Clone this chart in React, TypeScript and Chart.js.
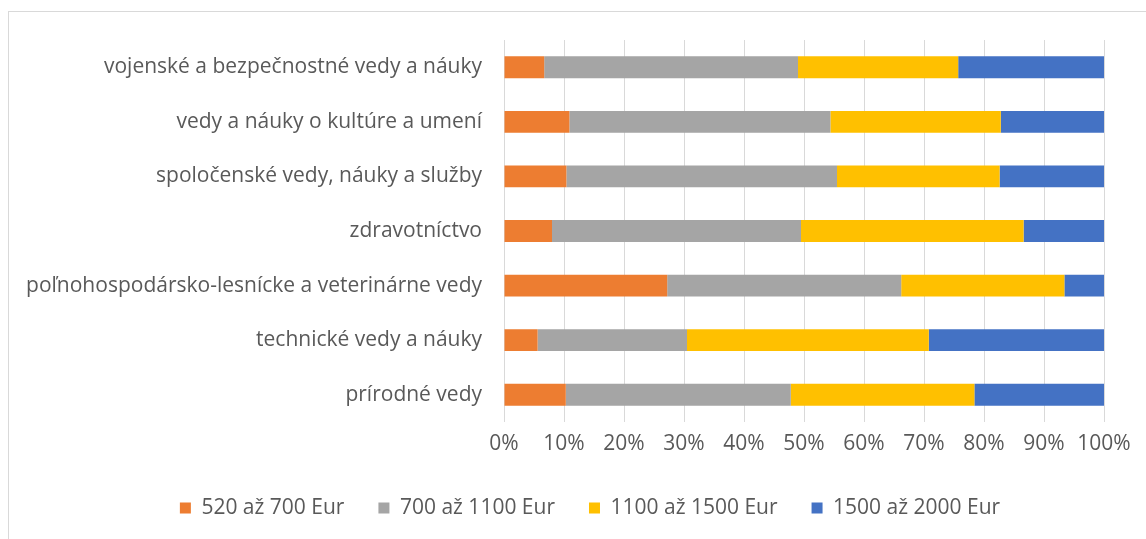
import React, { useEffect, useRef } from "react";
import { Chart, registerables } from "chart.js";

Chart.register(...registerables);

const categories = [
  "vojenské a bezpečnostné vedy a náuky",
  "vedy a náuky o kultúre a umení",
  "spoločenské vedy, náuky a služby",
  "zdravotníctvo",
  "poľnohospodársko-lesnícke a veterinárne vedy",
  "technické vedy a náuky",
  "prírodné vedy",
];

const seriesNames = ["520 až 700 Eur", "700 až 1100 Eur", "1100 až 1500 Eur", "1500 až 2000 Eur"];
const seriesColors = ["#ED7D31", "#A5A5A5", "#FFC000", "#4472C4"];

const s520to700 = [6.7, 10.9, 10.4, 8.0, 27.2, 5.6, 10.3];
const s700to1100 = [42.3, 43.5, 45.1, 41.5, 39.0, 24.9, 37.5];
const s1100to1500 = [26.7, 28.4, 27.1, 37.1, 27.2, 40.3, 30.6];
const s1500to2000 = [24.3, 17.2, 17.4, 13.4, 6.6, 29.2, 21.6];

const xTicks = [0, 10, 20, 30, 40, 50, 60, 70, 80, 90, 100];

const FONT = "'Open Sans', Lato, sans-serif";
const TEXT = "#595959";
const FS = 21;

const legendShift = {
  id: "legendShift",
  afterLayout(chart: any) {
    if (chart.legend) {
      chart.legend.left += 76;
    }
  },
};

export default function App() {
  const ref = useRef<HTMLCanvasElement>(null);

  useEffect(() => {
    if (!ref.current) return;
    const values = [s520to700, s700to1100, s1100to1500, s1500to2000];
    const chart = new Chart(ref.current, {
      type: "bar",
      data: {
        labels: categories,
        datasets: values.map((v, i) => ({
          label: seriesNames[i],
          data: v,
          backgroundColor: seriesColors[i],
          borderWidth: 0,
          categoryPercentage: 1,
          barPercentage: 0.4,
        })),
      },
      plugins: [legendShift],
      options: {
        indexAxis: "y",
        responsive: false,
        animation: false,
        maintainAspectRatio: false,
        layout: { padding: { top: 40, right: 42, left: 0, bottom: 10.5 } },
        plugins: {
          tooltip: { enabled: false },
          legend: {
            position: "bottom",
            labels: {
              color: TEXT,
              font: { family: FONT, size: FS },
              boxWidth: 11,
              boxHeight: 11,
              padding: 34,
            },
          },
        },
        scales: {
          x: {
            stacked: true,
            min: 0,
            max: 100,
            afterBuildTicks: (scale: any) => {
              scale.ticks = xTicks.map((v) => ({ value: v }));
            },
            afterFit: (scale: any) => {
              scale.height = 41.5;
            },
            grid: { color: "#d9d9d9", lineWidth: 1, drawTicks: false },
            border: { display: false },
            ticks: {
              color: TEXT,
              font: { family: FONT, size: FS },
              padding: 9,
              callback: (v: any) => v + "%",
            },
          },
          y: {
            stacked: true,
            afterFit: (scale: any) => {
              scale.width = 504;
            },
            grid: { display: false, drawTicks: false },
            border: { display: false },
            ticks: {
              color: TEXT,
              font: { family: FONT, size: FS },
              padding: 22,
            },
          },
        },
      },
    });
    return () => chart.destroy();
  }, []);

  return (
    <div style={{ position: "fixed", left: 0, top: 0, width: 1146, height: 539, overflow: "hidden", background: "#fff" }}>
      <div
        style={{
          position: "absolute",
          left: 8,
          top: 11,
          width: 2000,
          height: 2000,
          border: "1px solid #d9d9d9",
        }}
      />
      <canvas ref={ref} width={1146} height={539} style={{ position: "absolute", left: 0, top: 0 }} />
    </div>
  );
}
